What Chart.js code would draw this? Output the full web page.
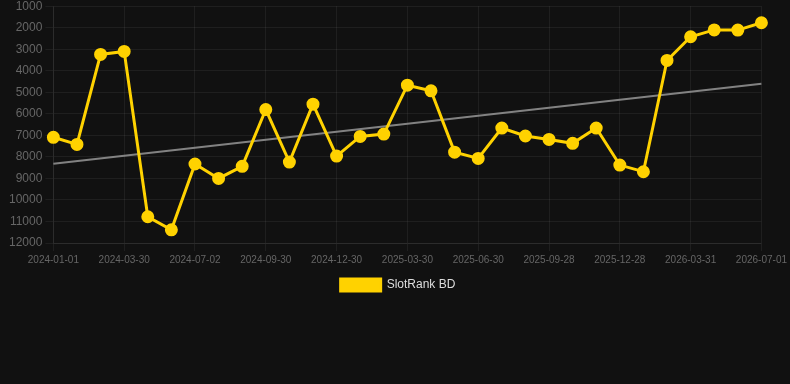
<!DOCTYPE html>
<html>
<head>
<meta charset="utf-8">
<script src="https://cdn.jsdelivr.net/npm/chart.js@4/dist/chart.umd.min.js"></script>
<style>
  html, body { margin: 0; padding: 0; background: #111111; overflow: hidden; }
  #wrap { width: 790px; height: 305px; position: relative; margin-top: -4px; }
</style>
</head>
<body>
<div id="wrap"><canvas id="rankChart"></canvas></div>
<script>
// dates on the x axis (one point per month, every 3rd one is labelled)
var dates = [
    "2024-01-01", "2024-01-31", "2024-03-01", "2024-03-30", "2024-05-01", "2024-06-01",
    "2024-07-02", "2024-08-01", "2024-08-31", "2024-09-30", "2024-10-31", "2024-11-30",
    "2024-12-30", "2025-01-30", "2025-02-28", "2025-03-30", "2025-04-30", "2025-05-31",
    "2025-06-30", "2025-07-30", "2025-08-29", "2025-09-28", "2025-10-29", "2025-11-28",
    "2025-12-28", "2026-01-29", "2026-03-01", "2026-03-31", "2026-04-30", "2026-05-31",
    "2026-07-01"
];

// rank values
var rankBD = [
    7090, 7420, 3240, 3100, 10780, 11390,
    8330, 9000, 8440, 5800, 8240, 5550,
    7960, 7050, 6940, 4670, 4930, 7780,
    8070, 6660, 7030, 7190, 7370, 6660,
    8380, 8690, 3520, 2420, 2100, 2110,
    1770
];

// trend line: only the two ends, the rest is spanned
var trendStart = 8320;
var trendEnd = 4600;
var trend = dates.map(function (d, i) {
    if (i === 0) return trendStart;
    if (i === dates.length - 1) return trendEnd;
    return null;
});

var yMin = 1000;
var yMax = 12000;
var yStep = 1000;

var gold = '#FFD200';
var gridColor = 'rgba(255,255,255,0.06)';

Chart.defaults.font.family = '"Liberation Sans", Arial, sans-serif';

new Chart(document.getElementById('rankChart'), {
    type: 'line',
    data: {
        labels: dates,
        datasets: [
            {
                label: 'SlotRank BD',
                data: rankBD,
                borderColor: gold,
                backgroundColor: gold,
                borderWidth: 3,
                pointRadius: 5,
                pointHoverRadius: 6,
                pointBackgroundColor: gold,
                pointBorderColor: gold,
                tension: 0
            },
            {
                label: 'trend',
                data: trend,
                borderColor: 'rgba(150,150,150,0.85)',
                borderWidth: 2,
                pointRadius: 0,
                spanGaps: true,
                fill: false
            }
        ]
    },
    options: {
        responsive: true,
        maintainAspectRatio: false,
        animation: false,
        layout: { padding: { top: 0, right: 0, left: 6, bottom: 0 } },
        plugins: {
            legend: {
                position: 'bottom',
                labels: {
                    color: '#dddddd',
                    font: { size: 12 },
                    boxWidth: 40,
                    filter: function (item) { return item.text !== 'trend'; }
                }
            },
            tooltip: { enabled: false }
        },
        scales: {
            x: {
                grid: {
                    color: function (ctx) { return ctx.index % 3 === 0 ? gridColor : 'transparent'; }
                },
                border: { color: gridColor },
                ticks: {
                    color: '#666666',
                    font: { size: 10 },
                    autoSkip: false,
                    maxRotation: 0,
                    callback: function (val, i) { return i % 3 === 0 ? dates[i] : ''; }
                }
            },
            y: {
                reverse: true,
                min: yMin,
                max: yMax,
                grid: { color: gridColor },
                border: { color: gridColor },
                ticks: {
                    color: '#666666',
                    font: { size: 12 },
                    stepSize: yStep,
                    callback: function (v) { return String(v); }
                }
            }
        }
    }
});
</script>
</body>
</html>
